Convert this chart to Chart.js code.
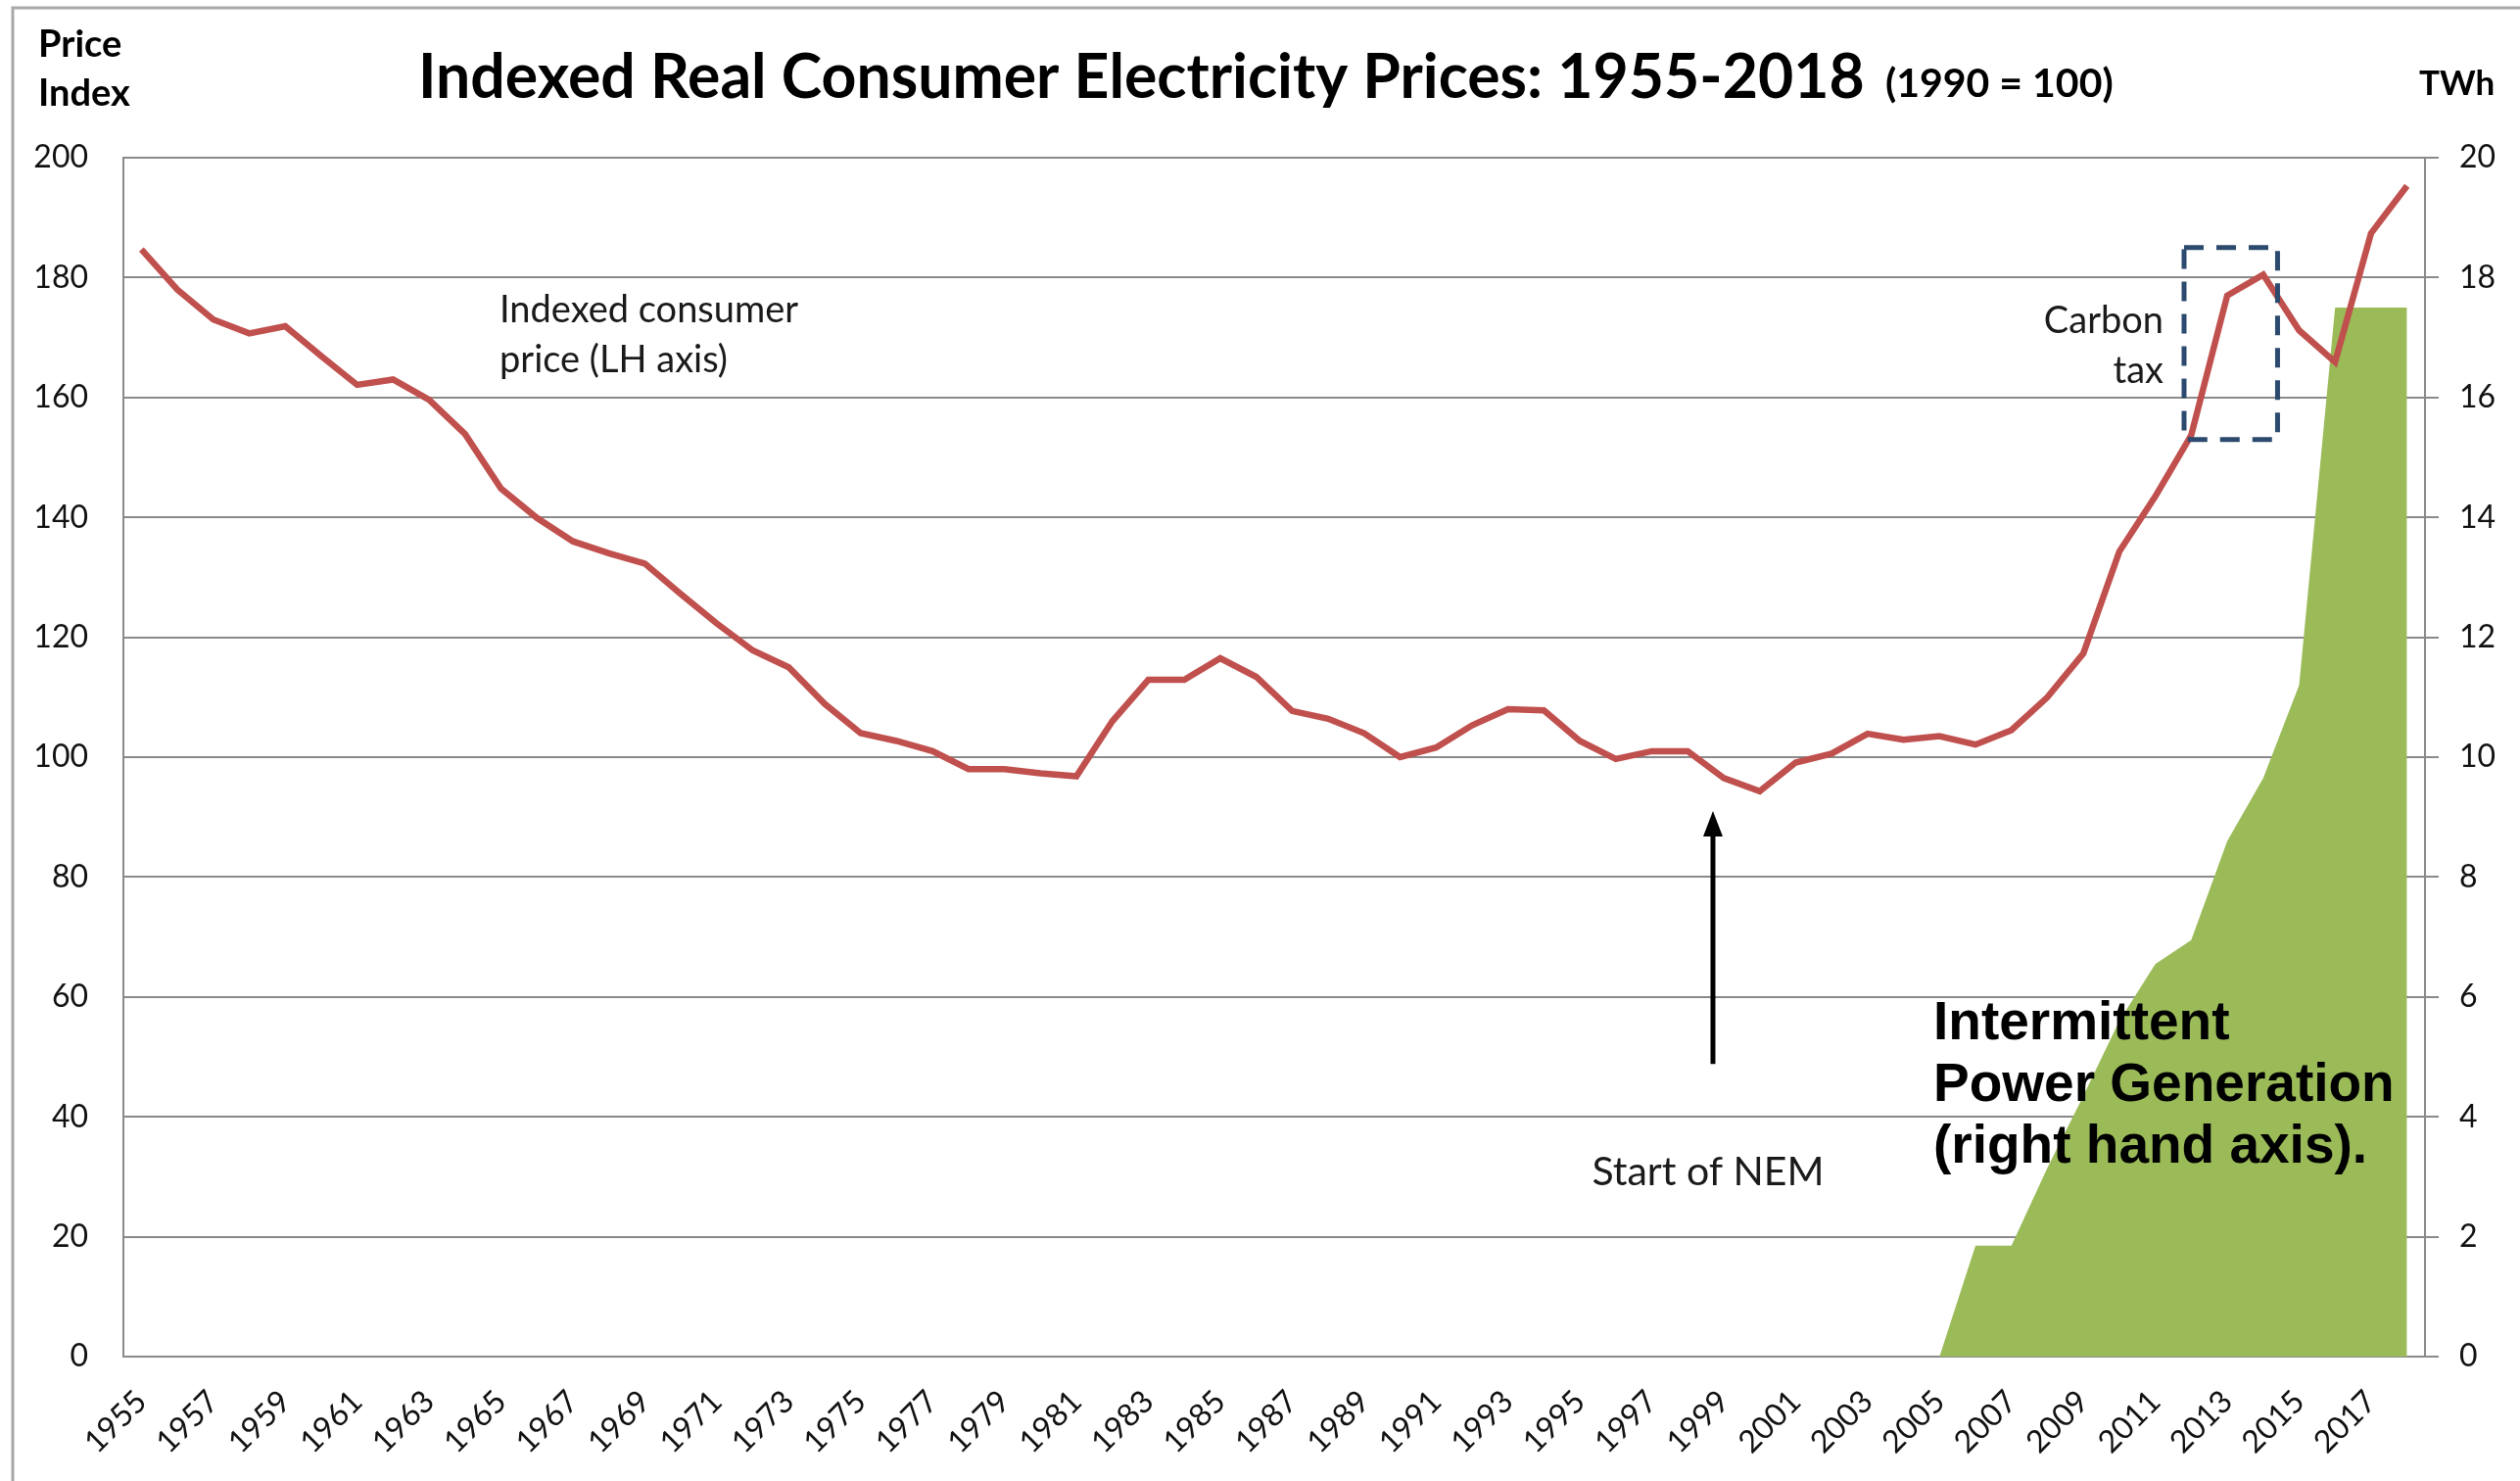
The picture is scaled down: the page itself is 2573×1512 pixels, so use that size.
<!DOCTYPE html>
<html lang="en">
<head>
<meta charset="UTF-8">
<title>Indexed Real Consumer Electricity Prices: 1955-2018</title>
<script src="https://cdn.jsdelivr.net/npm/chart.js"></script>
<style>
  html, body { margin: 0; padding: 0; background: #fff; }
  canvas { display: block; }
</style>
</head>
<body>
<canvas id="grafico" width="2573" height="1512"></canvas>
<script>
// categories (years)
const years = [
  1955, 1956, 1957, 1958, 1959, 1960, 1961, 1962, 1963, 1964,
  1965, 1966, 1967, 1968, 1969, 1970, 1971, 1972, 1973, 1974,
  1975, 1976, 1977, 1978, 1979, 1980, 1981, 1982, 1983, 1984,
  1985, 1986, 1987, 1988, 1989, 1990, 1991, 1992, 1993, 1994,
  1995, 1996, 1997, 1998, 1999, 2000, 2001, 2002, 2003, 2004,
  2005, 2006, 2007, 2008, 2009, 2010, 2011, 2012, 2013, 2014,
  2015, 2016, 2017, 2018
];

// indexed real consumer price, 1990 = 100 (left axis)
const priceIndex = [
  184.7, 178.0, 173.0, 170.7, 171.9, 166.9, 162.1, 163.0, 159.6, 153.9,
  144.8, 139.9, 136.0, 134.0, 132.3, 127.2, 122.3, 117.8, 115.0, 108.9,
  104.0, 102.7, 101.0, 98.0, 98.0, 97.3, 96.8, 106.0, 112.9, 112.9,
  116.5, 113.4, 107.7, 106.4, 104.0, 100.0, 101.6, 105.3, 108.0, 107.8,
  102.7, 99.7, 101.0, 101.0, 96.5, 94.3, 99.1, 100.6, 103.9, 102.9,
  103.5, 102.1, 104.5, 110.0, 117.3, 134.3, 143.5, 153.7, 177.0, 180.5,
  171.2, 165.9, 187.4, 195.3
];

// intermittent power generation, TWh (right axis)
const intermittentTWh = [
  null, null, null, null, null, null, null, null, null, null,
  null, null, null, null, null, null, null, null, null, null,
  null, null, null, null, null, null, null, null, null, null,
  null, null, null, null, null, null, null, null, null, null,
  null, null, null, null, null, null, null, null, null, null,
  0, 1.85, 1.85, 3.15, 4.35, 5.6, 6.55, 6.95, 8.6, 9.65,
  11.2, 17.5, 17.5, 17.5
];

const leftTicks = { min: 0, max: 200, step: 20 };
const rightTicks = { min: 0, max: 20, step: 2 };

const corCinza = '#8a8a8a';
const fonteCalibri = 'Lato, "Open Sans", sans-serif';

// textos e marcações por cima do gráfico
const anotacoes = {
  id: 'anotacoes',
  beforeDraw(chart) {
    const { ctx } = chart;
    ctx.save();
    ctx.fillStyle = '#fff';
    ctx.fillRect(0, 0, chart.width, chart.height);
    // moldura da imagem original
    ctx.strokeStyle = '#a8a8a8';
    ctx.lineWidth = 3;
    ctx.beginPath();
    ctx.moveTo(13, chart.height);
    ctx.lineTo(13, 8);
    ctx.lineTo(chart.width, 8);
    ctx.stroke();
    ctx.restore();
  },
  afterDraw(chart) {
    const { ctx } = chart;
    const x = chart.scales.x;
    const y = chart.scales.y;
    ctx.save();
    ctx.fillStyle = '#000';
    ctx.textBaseline = 'middle';

    // titulo
    ctx.font = 'bold 62.5px ' + fonteCalibri;
    ctx.textAlign = 'left';
    ctx.fillText('Indexed Real Consumer Electricity Prices: 1955-2018', 427, 80);
    ctx.font = 'bold 41px ' + fonteCalibri;
    ctx.fillText('(1990 = 100)', 1925, 86);

    // nomes dos eixos
    ctx.font = 'bold 38px ' + fonteCalibri;
    ctx.fillText('Price', 39, 46);
    ctx.fillText('Index', 39, 96);
    ctx.font = 'bold 35px ' + fonteCalibri;
    ctx.fillText('TWh', 2470, 86);

    ctx.font = '38px ' + fonteCalibri;
    ctx.fillStyle = '#1a1a1a';
    ctx.fillText('Indexed consumer', 510, 317);
    ctx.fillText('price (LH axis)', 510, 368);

    ctx.textAlign = 'right';
    ctx.fillText('Carbon', 2209, 328);
    ctx.fillText('tax', 2209, 379);

    ctx.textAlign = 'center';
    ctx.font = '41px ' + fonteCalibri;
    ctx.fillText('Start of NEM', 1744, 1197);

    // caixa tracejada do carbon tax
    const bx1 = x.getPixelForValue(56.8), bx2 = x.getPixelForValue(59.4);
    const by1 = y.getPixelForValue(185), by2 = y.getPixelForValue(153);
    ctx.strokeStyle = '#2c4a6e';
    ctx.lineWidth = 5;
    ctx.setLineDash([20, 13]);
    ctx.strokeRect(bx1, by1, bx2 - bx1, by2 - by1);
    ctx.setLineDash([]);

    // seta "Start of NEM"
    const ax = x.getPixelForValue(43.7);
    const ay1 = y.getPixelForValue(48.8), ay2 = y.getPixelForValue(91);
    ctx.strokeStyle = '#000';
    ctx.lineWidth = 5;
    ctx.beginPath();
    ctx.moveTo(ax, ay1);
    ctx.lineTo(ax, ay2 + 20);
    ctx.stroke();
    ctx.beginPath();
    ctx.moveTo(ax, ay2);
    ctx.lineTo(ax - 10, ay2 + 26);
    ctx.lineTo(ax + 10, ay2 + 26);
    ctx.closePath();
    ctx.fillStyle = '#000';
    ctx.fill();

    // texto da area verde
    ctx.textAlign = 'left';
    ctx.font = 'bold 55px "Liberation Sans", Arial, sans-serif';
    ctx.fillText('Intermittent', 1974, 1046);
    ctx.fillText('Power Generation', 1974, 1109);
    ctx.fillText('(right hand axis).', 1974, 1172);
    ctx.restore();
  }
};

const ctx = document.getElementById('grafico').getContext('2d');

new Chart(ctx, {
  type: 'line',
  data: {
    labels: years,
    datasets: [
      {
        label: 'Indexed consumer price (LH axis)',
        data: priceIndex,
        yAxisID: 'y',
        borderColor: '#c0504d',
        borderWidth: 6.5,
        pointRadius: 0,
        tension: 0,
        fill: false,
        order: 0
      },
      {
        label: 'Intermittent Power Generation (TWh)',
        data: intermittentTWh,
        yAxisID: 'y2',
        borderWidth: 0,
        borderColor: '#9bbb59',
        backgroundColor: '#9bbb59',
        pointRadius: 0,
        tension: 0,
        fill: 'origin',
        order: 1
      }
    ]
  },
  options: {
    responsive: false,
    animation: false,
    layout: { padding: { top: 161, left: 0, right: 0, bottom: 0 } },
    plugins: {
      legend: { display: false },
      tooltip: { enabled: false }
    },
    scales: {
      x: {
        offset: true,
        grid: { display: false, drawTicks: false },
        border: { display: true, color: corCinza, width: 2 },
        ticks: {
          autoSkip: false,
          minRotation: 45,
          maxRotation: 45,
          padding: 27,
          color: '#111',
          font: { family: fonteCalibri, size: 32 },
          callback: function (value, index) {
            return index % 2 === 0 ? String(years[index]) : '';
          }
        },
        afterFit: function (scale) { scale.height = 127; }
      },
      y: {
        position: 'left',
        min: leftTicks.min,
        max: leftTicks.max,
        grid: { color: corCinza, lineWidth: 2, drawTicks: false },
        border: { display: true, color: corCinza, width: 2 },
        ticks: {
          stepSize: leftTicks.step,
          padding: 36,
          color: '#111',
          font: { family: fonteCalibri, size: 32 }
        },
        afterFit: function (scale) { scale.width = 126; }
      },
      y2: {
        position: 'right',
        min: rightTicks.min,
        max: rightTicks.max,
        grid: { drawOnChartArea: false, color: corCinza, lineWidth: 2, tickLength: 14 },
        border: { display: true, color: corCinza, width: 2 },
        ticks: {
          stepSize: rightTicks.step,
          padding: 21,
          color: '#111',
          font: { family: fonteCalibri, size: 32 }
        },
        afterFit: function (scale) { scale.width = 97; }
      }
    }
  },
  plugins: [anotacoes]
});
</script>
</body>
</html>
